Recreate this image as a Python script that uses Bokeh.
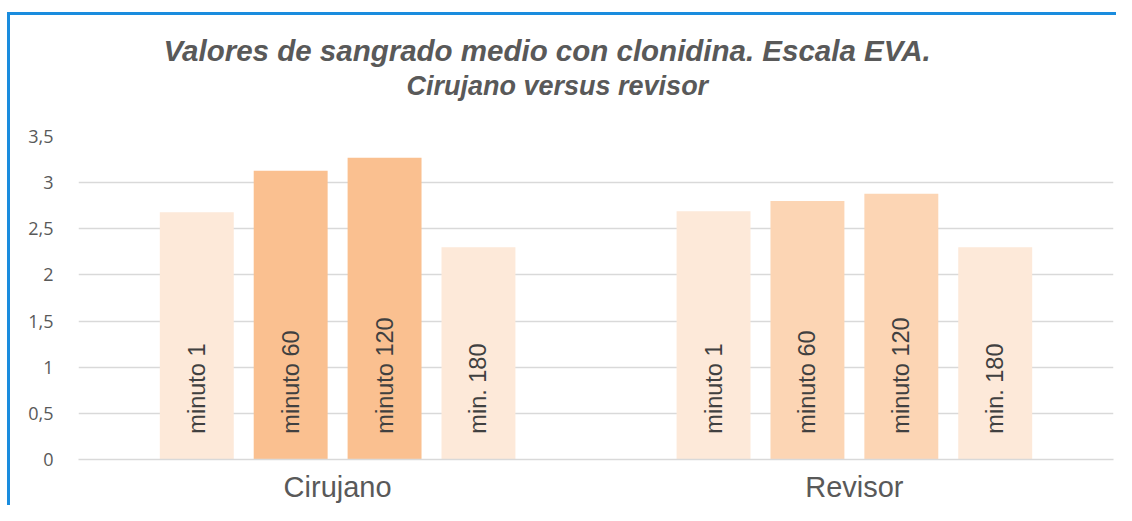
import math
from bokeh.plotting import figure
from bokeh.models import ColumnDataSource, FactorRange, Range1d, FixedTicker, Title
from bokeh.core.properties import value
from bokeh.embed import file_html
from bokeh.resources import INLINE

# ---- data ----
groups = ["Cirujano", "Revisor"]
times = ["minuto 1", "minuto 60", "minuto 120", "min. 180"]
cirujano = [2.68, 3.13, 3.27, 2.30]
revisor = [2.69, 2.80, 2.88, 2.30]
y_ticks = [0, 0.5, 1, 1.5, 2, 2.5, 3, 3.5]
y_tick_labels = ["0", "0,5", "1", "1,5", "2", "2,5", "3", "3,5"]
title_lines = ["Valores de sangrado medio con clonidina. Escala EVA.",
               "Cirujano versus revisor"]

# ---- styles ----
cir_colors = ["#FDE9D9", "#FAC090", "#FAC090", "#FDE9D9"]
rev_colors = ["#FDE9D9", "#FCD5B4", "#FCD5B4", "#FDE9D9"]
grey = "#595959"
grid = "#D9D9D9"
blue = "#1A8CDE"

factors = [(g, t) for g in groups for t in times]
tops = cirujano + revisor
colors = cir_colors + rev_colors
source = ColumnDataSource(dict(x=factors, top=tops, color=colors,
                               label=[t for g in groups for t in times]))

x_range = FactorRange(*factors, factor_padding=0.27, group_padding=2.18,
                      range_padding=1.1, range_padding_units="absolute")

p = figure(x_range=x_range, y_range=Range1d(0, 3.5), width=1116, height=505,
           output_backend="svg", toolbar_location=None,
           min_border_left=78, min_border_right=3, min_border_top=136,
           min_border_bottom=45)
p.styles = {"background": (f"linear-gradient({blue},{blue}) 7px 12px / 100% 3px no-repeat, "
                           f"linear-gradient({blue},{blue}) 7px 12px / 3px 100% no-repeat, "
                           "#ffffff")}
p.outline_line_color = None
p.background_fill_color = "white"
p.border_fill_alpha = 0

p.vbar(x="x", top="top", width=1.0, source=source, fill_color="color",
       line_color=None)

p.text(x="x", y=0.28, text="label", source=source, angle=math.pi / 2,
       text_align="left", text_baseline="middle",
       text_font=value("Liberation Sans"), text_font_size="23.5px",
       text_color="#404040")

# grid
p.xgrid.visible = False
p.ygrid.grid_line_color = grid
p.ygrid.grid_line_width = 1.3
p.ygrid.ticker = FixedTicker(ticks=y_ticks)

# y axis
yax = p.yaxis[0]
yax.ticker = FixedTicker(ticks=y_ticks)
yax.major_label_overrides = {t: l for t, l in zip(y_ticks, y_tick_labels)}
yax.axis_line_color = None
yax.major_tick_line_color = None
yax.minor_tick_line_color = None
yax.major_label_standoff = 19
yax.major_label_text_font = "Open Sans"
yax.major_label_text_font_size = "18px"
yax.major_label_text_color = grey

# x axis
xax = p.xaxis[0]
xax.axis_line_color = grid
xax.axis_line_width = 1.3
xax.major_tick_line_color = None
xax.minor_tick_line_color = None
xax.major_label_text_color = None
xax.major_label_text_font_size = "1px"
xax.major_label_standoff = 5
xax.separator_line_color = None
xax.group_text_font = "Liberation Sans"
xax.group_text_font_style = "normal"
xax.group_text_font_size = "29px"
xax.group_text_line_height = 0.8
xax.group_text_color = grey
xax.group_label_orientation = "horizontal"

# title lines (line 2 added first: it sits next to the plot)
p.add_layout(Title(text=title_lines[1], align="left", offset=328,
                   standoff=71, text_font="Liberation Sans",
                   text_font_style="bold italic", text_font_size="27px",
                   text_color=grey), "above")
p.add_layout(Title(text=title_lines[0], align="left", offset=85,
                   standoff=-66, text_font="Liberation Sans",
                   text_font_style="bold italic", text_font_size="29.5px",
                   text_color=grey), "above")

open("out.html", "w").write(file_html(p, INLINE))
